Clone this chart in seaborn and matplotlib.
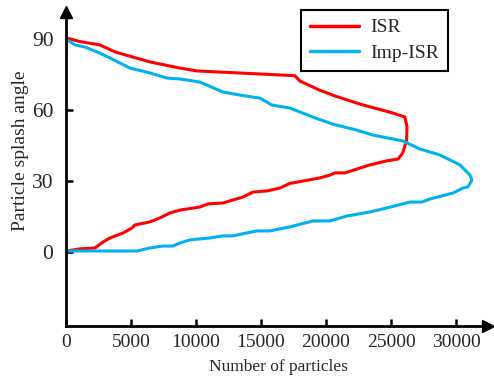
import pandas as pd
import numpy as np
import seaborn as sns
import matplotlib.pyplot as plt

# ISR curve, traced along the outline from 90 deg down to 0 deg
isr_count = [0, 1080, 2600, 3800, 6460, 8770, 10080, 17600, 18000, 19500, 20700, 22600,
             25150, 26070, 26230, 26200, 25900, 25550, 24680, 23380, 21450, 20700, 20300,
             19540, 17460, 17230, 16460, 15460, 14380, 13610, 12070, 10920, 10300, 8770,
             8000, 7230, 6460, 5300, 5070, 4380, 3380, 2850, 2230, 1080, 0]
isr_angle = [90.5, 88.9, 87.5, 84.5, 80.3, 77.7, 76.5, 74.5, 72.2, 68.4, 65.9, 62.5,
             58.7, 57.0, 52.8, 47.3, 41.8, 39.3, 38.5, 36.8, 33.4, 33.4, 32.5,
             31.3, 29.2, 29.0, 27.0, 25.8, 25.3, 23.2, 20.7, 20.3, 19.0, 17.7,
             16.5, 14.4, 12.7, 11.4, 10.1, 8.0, 5.9, 4.2, 1.7, 1.3, 0.4]

# Imp-ISR curve
imp_count = [0, 690, 1460, 2610, 3380, 4920, 6230, 7770, 8770, 10300, 12070, 13380,
             14920, 15840, 17230, 18990, 20530, 22370, 23610, 25910, 27220, 28760, 30300,
             31070, 31220, 30920, 30530, 29760, 28000, 27380, 26460, 24680, 23380, 21610,
             20300, 18990, 17230, 15690, 14690, 12840, 12070, 11070, 9540, 8770, 8230,
             7460, 6460, 5460, 0]
imp_angle = [90.0, 87.5, 86.6, 84.0, 82.0, 77.7, 76.0, 73.5, 73.1, 71.8, 67.6, 66.3,
             65.0, 62.1, 60.8, 57.0, 54.0, 51.5, 49.4, 46.9, 43.5, 41.0, 36.8,
             32.5, 30.4, 27.5, 27.0, 24.9, 22.4, 21.1, 21.1, 18.6, 16.9, 15.2,
             13.1, 13.1, 10.6, 8.9, 8.9, 6.8, 6.8, 5.9, 5.1, 3.8, 2.5,
             2.5, 1.7, 0.4, 0.4]

xticks = [0, 5000, 10000, 15000, 20000, 25000, 30000]
yticks = [0, 30, 60, 90]

df = pd.concat([
    pd.DataFrame({'count': isr_count, 'angle': isr_angle, 'method': 'ISR'}),
    pd.DataFrame({'count': imp_count, 'angle': imp_angle, 'method': 'Imp-ISR'}),
])

sns.set_style('ticks')
plt.rcParams['font.family'] = ['Liberation Serif', 'DejaVu Serif']

fig = plt.figure(figsize=(4.94, 3.79), dpi=100)
ax = fig.add_axes([0.1336, 0.1398, 0.854, 0.8285])

sns.lineplot(data=df, x='count', y='angle', hue='method', sort=False, estimator=None,
             units='method', palette={'ISR': '#ff0000', 'Imp-ISR': '#00b0f0'},
             linewidth=2.2, ax=ax)

ax.set_xlim(0, 32450)
ax.set_ylim(-31.3, 101.4)
ax.set_xticks(xticks)
ax.set_yticks(yticks)
ax.tick_params(direction='in', width=1.8, length=5, color='black')
ax.tick_params(axis='y', labelsize=15.5, pad=9)
ax.tick_params(axis='x', labelsize=14, pad=6)
for s in ['top', 'right']:
    ax.spines[s].set_visible(False)
for s in ['left', 'bottom']:
    ax.spines[s].set_linewidth(2)
    ax.spines[s].set_color('black')

# arrow heads on the axes
ax.plot(1, 0, '>', color='black', markersize=9, transform=ax.transAxes, clip_on=False)
ax.plot(0, 1, '^', color='black', markersize=9, transform=ax.transAxes, clip_on=False)

ax.set_xlabel('Number of particles', fontsize=12.5)
ax.set_ylabel('Particle splash angle', fontsize=14)
ax.xaxis.set_label_coords(0.503, -0.105)
ax.yaxis.set_label_coords(-0.088, 0.557)

leg = ax.legend(loc='upper right', bbox_to_anchor=(0.905, 1.006), borderaxespad=0,
                fontsize=14, fancybox=False, framealpha=1, edgecolor='black',
                handlelength=2.5, handletextpad=0.6, borderpad=0.45,
                labelspacing=0.4, title=None)
leg.get_frame().set_linewidth(1.5)
for line in leg.get_lines():
    line.set_linewidth(2.5)

fig.savefig('out.png', dpi=100)
